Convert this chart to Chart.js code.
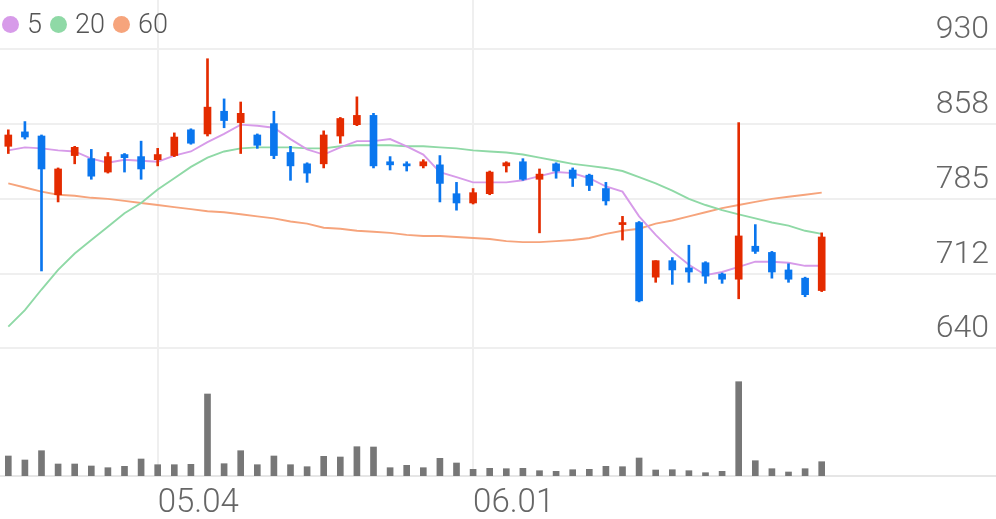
<!DOCTYPE html>
<html lang="ko">
<head>
<meta charset="UTF-8">
<title>Candle chart</title>
<script src="https://cdn.jsdelivr.net/npm/chart.js@4/dist/chart.umd.min.js"></script>
<style>
  html, body { margin: 0; padding: 0; background: #fff; }
  #wrap { width: 996px; height: 519px; position: relative; }
  #legend {
    position: absolute; left: 2px; top: 10px;
    display: flex; align-items: center;
    font-family: Roboto, sans-serif; font-weight: 300; font-size: 27px;
    color: #555; line-height: 28px; pointer-events: none;
  }
  #legend .item { display: flex; align-items: center; margin-right: 8px; }
  #legend .dot { width: 17px; height: 17px; border-radius: 50%; margin-right: 8px; }
</style>
</head>
<body>
<div id="wrap">
  <canvas id="chart"></canvas>
  <div id="legend"></div>
</div>
<script>
const dates = [
  '04.17', '04.20', '04.21', '04.22', '04.23', '04.24', '04.27', '04.28', '04.29', '05.04',
  '05.06', '05.07', '05.08', '05.11', '05.12', '05.13', '05.14', '05.15', '05.18', '05.19',
  '05.20', '05.21', '05.22', '05.25', '05.26', '05.27', '05.28', '05.29', '06.01', '06.02',
  '06.03', '06.04', '06.05', '06.08', '06.09', '06.10', '06.11', '06.12', '06.15', '06.16',
  '06.17', '06.18', '06.19', '06.22', '06.23', '06.24', '06.25', '06.26', '06.29', '06.30'
];
const opens = [
  836, 850, 846, 789, 827, 824, 811, 828, 826, 823,
  827, 852, 848, 870, 859, 847, 858, 830, 819, 819,
  846, 857, 866, 821, 819, 817, 818, 790, 781, 790,
  817, 821, 804, 819, 813, 808, 795, 760, 762, 709,
  725, 718, 723, 712, 707, 739, 733, 716, 708, 696
];
const highs = [
  852, 860, 847, 815, 836, 833, 830, 829, 841, 834,
  849, 853, 921, 882, 879, 848, 870, 836, 820, 851,
  864, 884, 868, 826, 821, 823, 827, 801, 795, 812,
  821, 824, 814, 820, 815, 809, 801, 768, 763, 725,
  728, 740, 724, 713, 859, 760, 734, 722, 709, 752
];
const lows = [
  829, 843, 715, 782, 819, 804, 810, 811, 804, 817,
  826, 838, 846, 854, 829, 834, 824, 803, 801, 815,
  839, 856, 815, 813, 812, 815, 782, 774, 780, 789,
  811, 803, 752, 805, 797, 793, 779, 745, 685, 704,
  702, 704, 703, 703, 688, 732, 708, 704, 690, 695
];
const closes = [
  847, 845, 814, 814, 835, 807, 826, 825, 814, 828,
  845, 839, 874, 861, 868, 837, 827, 817, 810, 847,
  863, 866, 817, 818, 817, 821, 800, 781, 791, 811,
  820, 804, 809, 812, 805, 798, 783, 762, 686, 725,
  716, 714, 710, 707, 749, 734, 714, 707, 692, 748
];
const volumes = [
  200, 160, 253, 120, 120, 100, 83, 97, 170, 113,
  113, 117, 820, 123, 253, 113, 200, 113, 93, 197,
  190, 293, 290, 83, 107, 83, 177, 130, 67, 77,
  73, 77, 53, 47, 63, 67, 97, 93, 180, 60,
  63, 53, 33, 47, 943, 153, 73, 40, 73, 143
];
const ma5 = [
  832, 835, 834, 832, 831, 824, 820, 823, 822, 821,
  827, 831, 840, 848, 857, 856, 854, 843, 833, 828,
  835, 841, 841, 843, 836, 828, 811, 806, 801, 801,
  801, 803, 807, 811, 810, 805, 797, 792, 768, 750,
  734, 721, 711, 714, 719, 724, 724, 723, 720, 720
];
const ma20 = [
  661, 677, 697, 716, 732, 745, 758, 771, 781, 794,
  805, 816, 825, 831, 834, 835, 835, 835, 834, 834,
  836, 837, 837, 837, 836, 836, 835, 834, 832, 831,
  830, 828, 825, 822, 819, 817, 815, 812, 806, 800,
  793, 785, 779, 774, 770, 766, 762, 759, 754, 751
];
const ma60 = [
  800, 796, 792, 789, 788, 786, 785, 783, 781, 779,
  777, 775, 773, 772, 770, 768, 766, 763, 761, 757,
  756, 754, 753, 752, 750, 749, 749, 748, 747, 746,
  744, 743, 743, 744, 745, 747, 751, 754, 756, 761,
  764, 768, 772, 776, 779, 782, 785, 787, 789, 791
];
const slots = 60;
const tickLabels = ['05.04', '06.01'];
const priceTicks = [640, 712, 785, 858, 930];
const maLabels = ['5', '20', '60'];

const UP = '#e42b00';
const DOWN = '#0a76ee';
const MA_COLORS = ['#d79be9', '#8fd9a6', '#f6a47c'];
const TEXT = '#666';
const FONT = 'Roboto';

const labels = dates.concat(Array(slots - dates.length).fill(''));
const candleColors = opens.map((o, i) => closes[i] >= o ? UP : DOWN);
const bodies = opens.map((o, i) => [o, closes[i]]);
const wicks = lows.map((l, i) => [l, highs[i]]);

function maLine(label, data, color) {
  return {
    type: 'line', label, data,
    borderColor: color, backgroundColor: color,
    borderWidth: 1.9, pointRadius: 0, tension: 0,
    order: 1, yAxisID: 'y', isMA: true
  };
}

// legend as html, laid over the top-left of the plot
const htmlLegend = {
  id: 'htmlLegend',
  afterUpdate(chart) {
    const box = document.getElementById('legend');
    box.innerHTML = '';
    chart.data.datasets.filter(d => d.isMA).forEach(d => {
      const item = document.createElement('span');
      item.className = 'item';
      const dot = document.createElement('span');
      dot.className = 'dot';
      dot.style.background = d.borderColor;
      const txt = document.createElement('span');
      txt.textContent = d.label;
      item.appendChild(dot);
      item.appendChild(txt);
      box.appendChild(item);
    });
  }
};

new Chart(document.getElementById('chart'), {
  type: 'bar',
  data: {
    labels,
    datasets: [
      maLine(maLabels[0], ma5, MA_COLORS[0]),
      maLine(maLabels[1], ma20, MA_COLORS[1]),
      maLine(maLabels[2], ma60, MA_COLORS[2]),
      {
        label: 'body', data: bodies, backgroundColor: candleColors,
        barThickness: 7, minBarLength: 2, grouped: false, order: 0, yAxisID: 'y'
      },
      {
        label: 'wick', data: wicks, backgroundColor: candleColors,
        barThickness: 2, grouped: false, order: 0, yAxisID: 'y'
      },
      {
        label: 'volume', data: volumes, backgroundColor: '#777',
        barThickness: 6, grouped: false, order: 2, yAxisID: 'yv'
      }
    ]
  },
  options: {
    responsive: true,
    maintainAspectRatio: false,
    animation: false,
    layout: { padding: 0 },
    scales: {
      x: {
        offset: true,
        grid: {
          offset: false,
          drawTicks: false,
          lineWidth: 2,
          color: ctx => tickLabels.includes(labels[ctx.index]) ? '#efefef' : 'rgba(0,0,0,0)'
        },
        border: { color: '#e6e6e6', width: 2 },
        ticks: {
          autoSkip: false,
          maxRotation: 0,
          align: 'start',
          padding: 8,
          color: TEXT,
          font: { family: FONT, size: 33, weight: 300 },
          callback: (v, i) => tickLabels.includes(labels[i]) ? labels[i] : ''
        },
        afterFit: s => { s.height = 43; }
      },
      y: {
        position: 'right',
        min: 516,
        max: 978,
        afterBuildTicks: s => { s.ticks = priceTicks.map(v => ({ value: v })); },
        grid: { color: '#efefef', lineWidth: 2, drawTicks: false },
        border: { display: false },
        ticks: {
          mirror: true,
          padding: -7,
          labelOffset: -19,
          color: TEXT,
          font: { family: FONT, size: 32, weight: 300 }
        },
        afterFit: s => { s.width = 0; s.paddingTop = 0; s.paddingBottom = 0; }
      },
      yv: { display: false, min: 0, max: 4760 }
    },
    plugins: {
      legend: { display: false },
      tooltip: { enabled: false }
    }
  },
  plugins: [htmlLegend]
});
</script>
</body>
</html>
